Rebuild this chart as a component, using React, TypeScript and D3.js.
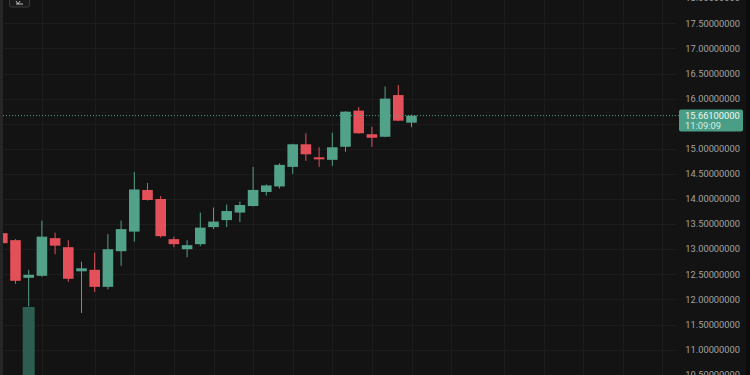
import React from "react";
import * as d3 from "d3";

const opens = [13.32, 13.18, 12.43, 12.47, 13.22, 13.04, 12.56, 12.59, 12.25, 12.96, 13.35, 14.18, 14.0, 13.2, 13.0, 13.1, 13.44, 13.58, 13.73, 13.86, 14.14, 14.25, 14.64, 15.09, 14.82, 14.78, 15.04, 15.76, 15.29, 15.24, 16.07, 15.52];
const highs = [13.38, 13.2, 12.59, 13.57, 13.33, 13.18, 12.75, 12.93, 13.3, 13.57, 14.54, 14.32, 14.06, 13.25, 13.18, 13.73, 13.83, 13.89, 13.95, 14.64, 14.29, 14.71, 15.1, 15.31, 15.03, 15.32, 15.75, 15.83, 15.44, 16.24, 16.27, 15.68];
const lows = [13.08, 12.31, 11.86, 12.45, 12.9, 12.35, 11.73, 12.15, 12.2, 12.67, 13.15, 13.97, 13.23, 13.04, 12.84, 13.06, 13.4, 13.44, 13.54, 13.85, 14.07, 14.21, 14.5, 14.76, 14.64, 14.66, 14.94, 15.3, 15.04, 15.23, 15.55, 15.43];
const closes = [13.12, 12.37, 12.49, 13.25, 13.07, 12.41, 12.62, 12.25, 13.0, 13.4, 14.19, 13.98, 13.26, 13.1, 13.08, 13.43, 13.55, 13.76, 13.88, 14.18, 14.27, 14.68, 15.09, 14.89, 14.8, 15.03, 15.74, 15.31, 15.22, 16.0, 15.56, 15.661];
const volumes = [12, 18, 100, 20, 9, 14, 22, 15, 16, 14, 25, 10, 17, 8, 7, 12, 9, 8, 7, 14, 6, 13, 18, 12, 9, 11, 20, 16, 10, 22, 18, 6];
const priceTicks = [10.5, 11, 11.5, 12, 12.5, 13, 13.5, 14, 14.5, 15, 15.5, 16, 16.5, 17, 17.5, 18];
const gridCandleIdx = [3, 7, 10, 13, 16, 19, 22, 25, 28, 31, 34, 38, 41, 44, 47, 50];
const lastPrice = 15.661;
const lastPriceLabel = "15.66100000";
const countdownLabel = "11:09:09";

const UP = "#52a189";
const DOWN = "#e4505a";
const BG = "#131313";
const GRID = "#1c1c1c";

export default function App() {
  const W = 750;
  const H = 375;
  const x = d3.scaleLinear().domain([0, 31]).range([2.3, 411.5]);
  const y = d3.scaleLinear().domain([14, 15]).range([199, 148.8]);
  const vol = d3.scaleLinear().domain([0, 100]).range([425, 307]);
  const bw = 10.6;
  const plotRight = 676;
  const fmt = (v: number) => v.toFixed(8);
  const tagTop = y(lastPrice) - 6;
  const tagBottom = tagTop + 22;
  const visibleTicks = priceTicks.filter((t) => y(t) < tagTop - 4 || y(t) > tagBottom + 4);

  return (
    <div style={{ position: "fixed", left: 0, top: 0, width: W, height: H }}>
      <svg width={W} height={H} style={{ display: "block" }}>
        <defs>
          <clipPath id="plot">
            <rect x={3} y={0} width={plotRight - 3} height={H} />
          </clipPath>
        </defs>
        <rect x={0} y={0} width={W} height={H} fill={BG} />
        {/* grid */}
        <g clipPath="url(#plot)">
          {priceTicks.map((t) => (
            <line key={"h" + t} x1={3} x2={plotRight} y1={Math.round(y(t)) + 0.5} y2={Math.round(y(t)) + 0.5} stroke={GRID} strokeWidth={1} />
          ))}
          {gridCandleIdx.map((i) => (
            <line key={"v" + i} x1={Math.round(x(i)) + 0.5} x2={Math.round(x(i)) + 0.5} y1={0} y2={H} stroke={GRID} strokeWidth={1} />
          ))}
        </g>
        {/* volume */}
        <g clipPath="url(#plot)">
          {volumes.map((v, i) => (
            <rect key={"vol" + i} x={x(i) - 6} width={12} y={vol(v)} height={Math.max(0, 425 - vol(v))} fill={closes[i] >= opens[i] ? "#2c5d50" : "#6a2f33"} />
          ))}
        </g>
        {/* candles */}
        <g clipPath="url(#plot)">
          {opens.map((o, i) => {
            const c = closes[i];
            const up = c >= o;
            const col = up ? UP : DOWN;
            const top = y(Math.max(o, c));
            const bot = y(Math.min(o, c));
            const h = Math.max(2, bot - top);
            return (
              <g key={"c" + i}>
                <line x1={x(i)} x2={x(i)} y1={y(highs[i])} y2={y(lows[i])} stroke={col} strokeWidth={1} />
                <rect x={x(i) - bw / 2} width={bw} y={top - (h - (bot - top)) / 2} height={h} fill={col} />
              </g>
            );
          })}
        </g>
        {/* last price line */}
        <line x1={3} x2={679} y1={y(lastPrice)} y2={y(lastPrice)} stroke={UP} strokeWidth={1} strokeDasharray="1,2" />
        {/* price axis labels */}
        <g fontFamily="Roboto, sans-serif" fontSize={9.3} fill="#a3a3a3" textAnchor="end">
          {visibleTicks.map((t) => (
            <text key={"l" + t} x={740} y={y(t)} dy="0.35em">{fmt(t)}</text>
          ))}
        </g>
        {/* price tag */}
        <rect x={679} y={tagTop} width={64} height={22} rx={2} fill="#4b9e86" />
        <text x={685} y={y(lastPrice) + 0.5} dy="0.35em" fontFamily="Roboto, sans-serif" fontSize={9.3} fill="#eef8f4">{lastPriceLabel}</text>
        <text x={685} y={y(lastPrice) + 10.5} dy="0.35em" fontFamily="Roboto, sans-serif" fontSize={9.3} fill="#d6efe7">{countdownLabel}</text>
        {/* edges */}
        <rect x={0} y={0} width={3} height={H} fill="#262626" />
        <rect x={746} y={0} width={4} height={H} fill="#0b0b0b" />
        {/* top-left button */}
        <rect x={9.5} y={-6} width={20} height={13} rx={2} fill="#1a1a1a" stroke="#3a3a3a" />
        <path d="M16 1 L18 4 L20 1 M16 4 L23 4" stroke="#bbbbbb" strokeWidth={1} fill="none" />
      </svg>
    </div>
  );
}
